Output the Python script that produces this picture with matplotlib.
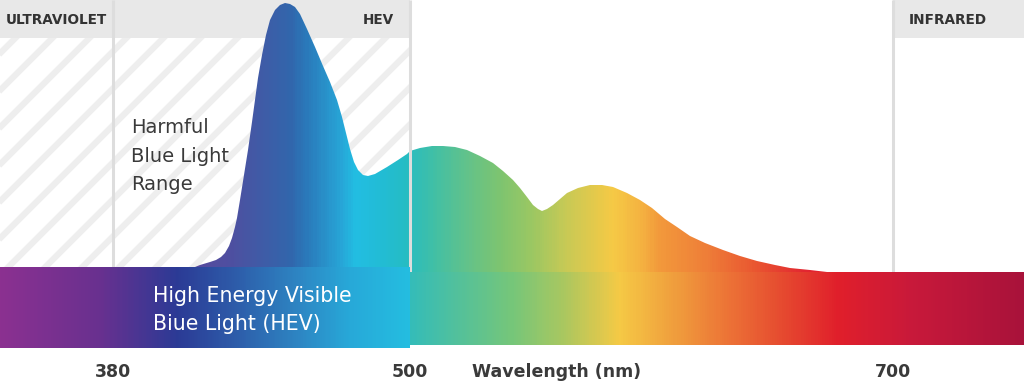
import numpy as np
import matplotlib
matplotlib.use("Agg")
import matplotlib.pyplot as plt
from matplotlib.colors import LinearSegmentedColormap, Normalize
from matplotlib.patches import Rectangle
from matplotlib.collections import LineCollection

plt.rcParams["font.family"] = ["DejaVu Sans"]

# spectrum of the light source (relative intensity, %)
wavelength = [403.03, 409.09, 415.15, 419.19, 421.62, 423.64, 425.25, 426.87, 428.08, 429.29,
              430.10, 431.31, 432.93,
              434.55, 436.16, 437.37, 438.59, 440.20, 441.82, 443.43, 445.45, 447.47, 449.49,
              451.52, 453.54, 455.56, 458.38, 461.62, 464.85, 467.68, 470.51, 472.53, 474.14,
              475.76, 477.37, 478.99, 481.01, 483.03, 485.86, 490.71, 495.15, 498.79, 500.00,
              504.14, 509.11, 513.66, 518.63, 523.60, 528.99, 534.37, 538.51, 542.65, 545.55,
              548.45, 550.93, 553.00, 554.66, 556.73, 559.21, 562.11, 565.01, 569.57, 574.53,
              579.50, 584.06, 589.85, 595.24, 600.21, 605.59, 610.56, 615.94, 622.15, 629.61,
              636.65, 643.69, 651.14, 657.35, 665.63, 672.67, 678.05]
intensity = [0.0, 0.37, 2.60, 3.72, 4.46, 5.58, 7.06, 9.67, 12.64, 16.73,
             20.07, 26.77, 36.06,
             45.35, 55.76, 63.94, 72.12, 80.67, 88.10, 93.68, 97.40, 99.26, 100.0,
             99.63, 98.51, 95.91, 90.33, 83.64, 76.58, 70.63, 63.94, 57.62, 51.67,
             45.72, 40.89, 37.92, 36.06, 35.69, 36.43, 39.03, 41.64, 43.87, 44.98,
             46.10, 46.84, 46.84, 46.47, 45.35, 43.12, 40.52, 37.55, 34.20, 31.23,
             27.88, 24.91, 23.42, 22.68, 23.42, 24.91, 27.14, 29.37, 31.23, 32.34,
             32.34, 31.60, 29.37, 26.77, 23.79, 19.70, 16.73, 13.38, 10.78, 8.18,
             5.95, 4.09, 2.60, 1.49, 0.56, 0.0, 0.0]

tick_values = [380, 500, 700]
band_names = ["ULTRAVIOLET", "HEV", "INFRARED"]
band_edges = [380, 500, 700]

# colour stops (nm, colour)
curve_stops = [(403.0, "#5d469c"), (427.3, "#4e4fa0"), (451.5, "#3166ac"), (457.6, "#2a78b9"),
               (471.7, "#27a4d6"), (477.8, "#22bde2"), (487.9, "#22bcd5"), (498.0, "#25bcc4"),
               (509.5, "#40bfa6"), (523.6, "#62c28a"), (537.3, "#7dc470"), (550.9, "#9cc762"),
               (565.0, "#c8c955"), (584.1, "#f5c945"), (595.2, "#f4b441"), (603.5, "#f2993b"),
               (623.0, "#ee7e38"), (643.7, "#e95530"), (664.4, "#e22530"), (678.1, "#e01f2b")]
hev_stops = [(334.3, "#8b3090"), (374.7, "#68308f"), (405.9, "#2b3a95"), (428.5, "#2d5aa8"),
             (455.6, "#2d86c3"), (475.8, "#27a8d8"), (500.0, "#24bde0")]
bar_stops = [(500.0, "#34bcb8"), (542.2, "#76c679"), (562.9, "#a8c760"), (586.5, "#f5c945"),
             (611.4, "#ef9a3c"), (632.1, "#ec7236"), (655.3, "#e5482f"), (677.6, "#e01f2b"),
             (707.9, "#c8193a"), (754.2, "#a8123a")]


# the wavelength axis of the original is slightly uneven (380/500/700 at px 113/410/893)
def fwd(x):
    x = np.asarray(x, dtype=float)
    return np.where(x <= 500, 113 + (x - 380) * 297 / 120, 410 + (x - 500) * 483 / 200)


def inv(p):
    p = np.asarray(p, dtype=float)
    return np.where(p <= 410, 380 + (p - 113) * 120 / 297, 500 + (p - 410) * 200 / 483)


x0, x1 = float(inv(0)), float(inv(1024))


def make_cmap(stops):
    lo, hi = stops[0][0], stops[-1][0]
    return LinearSegmentedColormap.from_list(
        "g", [((n - lo) / (hi - lo), c) for n, c in stops]), Normalize(lo, hi)


def gradient(ax, stops, xa, xb, ya, yb, clip=None, z=3):
    cmap, norm = make_cmap(stops)
    edges = np.linspace(xa, xb, 600)
    centers = (edges[:-1] + edges[1:]) / 2
    mesh = ax.pcolormesh(edges, [ya, yb], centers[None, :], cmap=cmap, norm=norm,
                         shading="flat", edgecolors="none", antialiased=False, zorder=z)
    if clip is not None:
        mesh.set_clip_path(clip)
    return mesh


fig = plt.figure(figsize=(10.24, 3.89), dpi=100)
ax = fig.add_axes([0, 37 / 389, 1, 352 / 389])
ax.set_xscale("function", functions=(fwd, inv))
ax.set_xlim(x0, x1)
ytop = 272 / 269 * 100
ybot = (272 - 352) / 269 * 100
ax.set_ylim(ybot, ytop)
for s in ax.spines.values():
    s.set_visible(False)
ax.set_yticks([])

band_low = (272 - 38) / 269 * 100
hev_top = (272 - 267) / 269 * 100
hev_bot = (272 - 348) / 269 * 100
bar_bot = (272 - 345) / 269 * 100

# header bands
ax.add_patch(Rectangle((x0, band_low), 500 - x0, ytop - band_low, fc="#e8e8e8", ec="none", zorder=1))
ax.add_patch(Rectangle((700, band_low), x1 - 700, ytop - band_low, fc="#e8e8e8", ec="none", zorder=1))

# striped area left of 500 nm
clip_rect = Rectangle((x0, hev_top), 500 - x0, band_low - hev_top, fc="none", ec="none")
ax.add_patch(clip_rect)
dx = 352 / 1024
starts = np.arange(-0.4, 0.45, 37 / 1024)
segs = [[(u, 0), (u + dx, 1)] for u in starts]
stripes = LineCollection(segs, colors="#eeeeee", linewidths=4.5, transform=ax.transAxes, zorder=1.5)
ax.add_collection(stripes)
stripes.set_clip_path(clip_rect)

ax.text(inv(131), 43.1, "Harmful\nBlue Light\nRange", fontsize=14, color="#3a3a3a",
        va="center", ha="left", linespacing=1.62, zorder=2)

# spectrum curve with gradient fill
poly = ax.fill(np.r_[wavelength, wavelength[-1], wavelength[0]],
               np.r_[intensity, -3, -3], fc="none", ec="none")[0]
gradient(ax, curve_stops, wavelength[0], wavelength[-1], -3, 101, clip=poly, z=3)

# vertical separators
ax.vlines(band_edges, 0, ytop, colors="#dddddd", linewidth=2.2, zorder=4)

# header labels
hdr = dict(fontsize=9.8, weight="bold", color="#333333", va="center", zorder=5)
ax.text(inv(6), 93.7, band_names[0], ha="left", **hdr)
ax.text(inv(394), 93.7, band_names[1], ha="right", **hdr)
ax.text(inv(909), 93.7, band_names[2], ha="left", **hdr)

# bottom bar
gradient(ax, bar_stops, 500, x1, bar_bot, 0, z=5)
gradient(ax, hev_stops, x0, 500, hev_bot, hev_top, z=6)
ax.text(inv(153), (272 - 310) / 269 * 100, "High Energy Visible\nBiue Light (HEV)",
        fontsize=14.8, color="white", va="center", ha="left", linespacing=1.45, zorder=7)

ax.set_xticks(tick_values)
ax.set_xticklabels([str(t) for t in tick_values], fontsize=12.5, weight="bold", color="#3a3a3a")
ax.xaxis.set_minor_locator(plt.NullLocator())
ax.tick_params(axis="x", length=0, pad=8)
ax.set_xlabel("Wavelength (nm)", fontsize=12.5, weight="bold", color="#3a3a3a", va="center")
ax.xaxis.set_label_coords(557 / 1024, -20 / 352)

fig.savefig("out.png", dpi=100)
